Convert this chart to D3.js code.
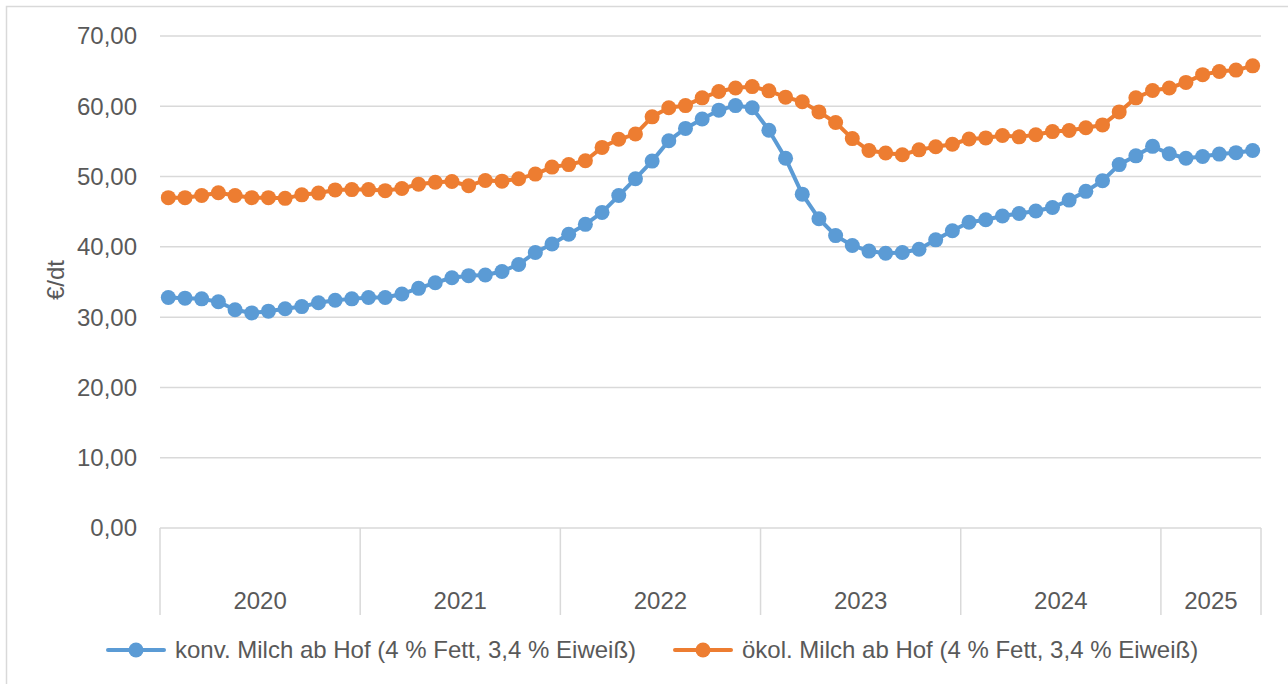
<!DOCTYPE html>
<html lang="de">
<head>
    <meta charset="UTF-8">
    <title>Milchpreise ab Hof</title>
    <script src="https://d3js.org/d3.v7.min.js"></script>
    <style>
        body {
            margin: 0;
            padding: 0;
            background: #fff;
            font-family: "Liberation Sans", Arial, sans-serif;
        }
        svg text {
            fill: #595959;
        }
    </style>
</head>
<body>
    <svg width="1288" height="684"></svg>
    <script>
        // Jahre und Anzahl Monate je Jahr (2025 nur bis Juni)
        const years = [2020, 2021, 2022, 2023, 2024, 2025];
        const monthsPerYear = [12, 12, 12, 12, 12, 6];

        const yTicks = [0, 10, 20, 30, 40, 50, 60, 70];

        // konv. Milch ab Hof, €/dt, monatlich
        const konv = [
            32.8, 32.7, 32.6, 32.2, 31.05, 30.6, 30.85, 31.2, 31.5, 32.05, 32.4, 32.6,
            32.8, 32.8, 33.3, 34.1, 34.9, 35.6, 35.9, 36.0, 36.5, 37.5, 39.2, 40.4,
            41.8, 43.2, 44.9, 47.3, 49.7, 52.2, 55.1, 56.85, 58.2, 59.45, 60.1, 59.8,
            56.6, 52.6, 47.5, 44.0, 41.6, 40.2, 39.4, 39.1, 39.2, 39.65, 41.0, 42.3,
            43.5, 43.85, 44.4, 44.75, 45.1, 45.6, 46.65, 47.9, 49.4, 51.7, 52.95, 54.3,
            53.25, 52.6, 52.85, 53.2, 53.4, 53.7
        ];

        // ökol. Milch ab Hof, €/dt, monatlich
        const oekol = [
            47.0, 47.0, 47.3, 47.7, 47.3, 47.0, 47.0, 46.9, 47.4, 47.65, 48.1, 48.15,
            48.15, 48.0, 48.3, 48.9, 49.2, 49.3, 48.7, 49.45, 49.35, 49.7, 50.35, 51.35,
            51.7, 52.25, 54.15, 55.3, 56.05, 58.5, 59.8, 60.1, 61.2, 62.1, 62.6, 62.8,
            62.2, 61.3, 60.65, 59.2, 57.7, 55.4, 53.7, 53.35, 53.1, 53.8, 54.25, 54.6,
            55.35, 55.5, 55.85, 55.65, 55.95, 56.4, 56.55, 56.95, 57.35, 59.2, 61.2, 62.25,
            62.6, 63.4, 64.5, 64.95, 65.15, 65.75
        ];

        const seriesNames = [
            "konv. Milch ab Hof (4 % Fett, 3,4 % Eiweiß)",
            "ökol. Milch ab Hof (4 % Fett, 3,4 % Eiweiß)"
        ];
        const seriesColors = ["#5B9BD5", "#ED7D31"];

        const months = [];
        years.forEach((yr, i) => {
            for (let m = 1; m <= monthsPerYear[i]; m++) months.push(yr + "-" + m);
        });

        const svg = d3.select("svg");
        const fontSize = "24px";

        // Rahmen des Diagrammbereichs
        svg.append("rect")
           .attr("x", 6.5).attr("y", 6.5)
           .attr("width", 1300).attr("height", 700)
           .attr("fill", "none")
           .attr("stroke", "#D9D9D9")
           .attr("stroke-width", 1.5);

        const plotLeft = 160, plotRight = 1261, plotTop = 36, plotBottom = 528;

        const x = d3.scaleBand().domain(months).range([plotLeft, plotRight]).padding(0);
        const y = d3.scaleLinear().domain([0, 70]).range([plotBottom, plotTop]);
        const cx = d => x(d) + x.bandwidth() / 2;

        // Gitternetzlinien
        svg.append("g")
           .selectAll("line")
           .data(yTicks)
           .join("line")
           .attr("x1", plotLeft).attr("x2", plotRight)
           .attr("y1", d => y(d)).attr("y2", d => y(d))
           .attr("stroke", "#D9D9D9")
           .attr("stroke-width", 1.5);

        // Y-Achsenbeschriftung
        svg.append("g")
           .selectAll("text")
           .data(yTicks)
           .join("text")
           .attr("x", 137)
           .attr("y", d => y(d))
           .attr("dy", "0.35em")
           .style("font-size", fontSize)
           .style("text-anchor", "end")
           .text(d => d3.format(".2f")(d).replace(".", ","));

        svg.append("text")
           .attr("transform", "translate(64,280) rotate(-90)")
           .style("font-size", fontSize)
           .style("text-anchor", "middle")
           .text("€/dt");

        // Jahres-Trennlinien und Jahreszahlen
        let start = 0;
        const yearInfo = years.map((yr, i) => {
            const first = months[start];
            const last = months[start + monthsPerYear[i] - 1];
            start += monthsPerYear[i];
            return { yr, x0: x(first), x1: x(last) + x.bandwidth() };
        });

        const sepX = [yearInfo[0].x0].concat(yearInfo.map(d => d.x1));
        svg.append("g")
           .selectAll("line")
           .data(sepX)
           .join("line")
           .attr("x1", d => d).attr("x2", d => d)
           .attr("y1", plotBottom).attr("y2", 615)
           .attr("stroke", "#D9D9D9")
           .attr("stroke-width", 1.5);

        svg.append("g")
           .selectAll("text")
           .data(yearInfo)
           .join("text")
           .attr("x", d => (d.x0 + d.x1) / 2)
           .attr("y", 609)
           .style("font-size", fontSize)
           .style("text-anchor", "middle")
           .text(d => d.yr);

        // Linien mit Markern
        const line = d3.line()
            .x((d, i) => cx(months[i]))
            .y(d => y(d));

        [konv, oekol].forEach((data, s) => {
            const g = svg.append("g");
            g.append("path")
             .datum(data)
             .attr("d", line)
             .attr("fill", "none")
             .attr("stroke", seriesColors[s])
             .attr("stroke-width", 4)
             .attr("stroke-linejoin", "round");
            g.selectAll("circle")
             .data(data)
             .join("circle")
             .attr("cx", (d, i) => cx(months[i]))
             .attr("cy", d => y(d))
             .attr("r", 7.5)
             .attr("fill", seriesColors[s]);
        });

        // Legende
        const legendX = [108, 675];
        const legend = svg.append("g");
        seriesNames.forEach((name, s) => {
            const lg = legend.append("g").attr("transform", `translate(${legendX[s]},650)`);
            lg.append("line")
              .attr("x1", 0).attr("x2", 56)
              .attr("y1", 0).attr("y2", 0)
              .attr("stroke", seriesColors[s])
              .attr("stroke-width", 4)
              .attr("stroke-linecap", "round");
            lg.append("circle")
              .attr("cx", 28).attr("cy", 0).attr("r", 7.5)
              .attr("fill", seriesColors[s]);
            lg.append("text")
              .attr("x", 67).attr("y", 0)
              .attr("dy", "0.35em")
              .style("font-size", fontSize)
              .text(name);
        });
    </script>
</body>
</html>
